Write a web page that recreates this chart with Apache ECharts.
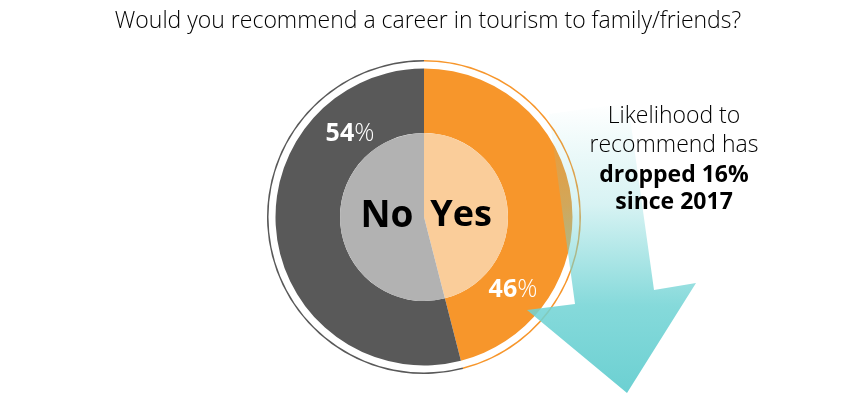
<!DOCTYPE html>
<html>
<head>
<meta charset="utf-8">
<script src="https://cdn.jsdelivr.net/npm/echarts@6/dist/echarts.min.js"></script>
<style>
html,body{margin:0;padding:0;background:#fff;}
#chart{width:856px;height:396px;}
</style>
</head>
<body>
<div id="chart"></div>
<script>
var titleText = 'Would you recommend a career in tourism to family/friends?';
var categories = ['Yes', 'No'];
var values = [46, 54];
var dropPct = 16;
var sinceYear = 2017;
var noteLines = ['Likelihood to', 'recommend has'];

var FONT = '"Open Sans", "Noto Sans", sans-serif';
var mainColors = ['#f7962b', '#595959'];
var innerColors = ['#facd9a', '#b2b2b2'];

var chart = echarts.init(document.getElementById('chart'), null, {renderer: 'canvas'});
var cx = 424, cy = 217;

function dataWith(colors) {
  return categories.map(function (c, i) {
    return {name: c, value: values[i], itemStyle: {color: colors[i]}};
  });
}

var pctRich = {
  b: {fontFamily: FONT, fontSize: 25, fontWeight: 'bold', fill: '#ffffff', color: '#ffffff'},
  l: {fontFamily: FONT, fontSize: 25, fontWeight: 300, fill: '#ffffff', color: '#ffffff'}
};

var option = {
  backgroundColor: '#ffffff',
  animation: false,
  title: {
    text: titleText,
    left: 'center',
    top: 5,
    textStyle: {fontFamily: FONT, fontSize: 23, fontWeight: 300, color: '#000000'}
  },
  series: [
    {
      type: 'pie', center: [cx, cy], radius: [155.5, 157], startAngle: 90, clockwise: true,
      silent: true, label: {show: false}, labelLine: {show: false},
      data: dataWith(mainColors)
    },
    {
      type: 'pie', center: [cx, cy], radius: [84, 148.5], startAngle: 90, clockwise: true,
      silent: true, label: {show: false}, labelLine: {show: false},
      data: dataWith(mainColors)
    },
    {
      type: 'pie', center: [cx, cy], radius: [0, 84], startAngle: 90, clockwise: true,
      silent: true, label: {show: false}, labelLine: {show: false},
      data: dataWith(innerColors)
    }
  ],
  graphic: [
    {
      type: 'polygon', z: 100,
      shape: {points: [[549, 114], [628, 103], [654, 290], [696, 283], [627, 393], [527, 310], [575, 304]]},
      style: {
        fill: new echarts.graphic.LinearGradient(0, 103, 0, 393, [
          {offset: 0, color: 'rgba(112,211,212,0.0)'},
          {offset: 0.35, color: 'rgba(112,211,212,0.28)'},
          {offset: 0.7, color: 'rgba(112,211,212,0.85)'},
          {offset: 1, color: 'rgba(108,208,210,1)'}
        ], true)
      }
    },
    {
      type: 'text', z: 110, x: 350, y: 134,
      style: {text: '{b|' + values[1] + '}{l|%}', align: 'center', verticalAlign: 'middle', rich: pctRich}
    },
    {
      type: 'text', z: 110, x: 513, y: 290,
      style: {text: '{b|' + values[0] + '}{l|%}', align: 'center', verticalAlign: 'middle', rich: pctRich}
    },
    {
      type: 'text', z: 110, x: 387, y: 216,
      style: {text: categories[1], align: 'center', verticalAlign: 'middle',
        font: 'bold 37px ' + FONT, fill: '#000000'}
    },
    {
      type: 'text', z: 110, x: 461, y: 216,
      style: {text: categories[0], align: 'center', verticalAlign: 'middle',
        font: 'bold 36px ' + FONT, fill: '#000000'}
    },
    {
      type: 'text', z: 110, x: 674, y: 116,
      style: {text: noteLines[0], align: 'center', verticalAlign: 'middle',
        font: '300 23px ' + FONT, fill: '#000000'}
    },
    {
      type: 'text', z: 110, x: 674, y: 145,
      style: {text: noteLines[1], align: 'center', verticalAlign: 'middle',
        font: '300 23px ' + FONT, fill: '#000000'}
    },
    {
      type: 'text', z: 110, x: 674, y: 175,
      style: {text: 'dropped ' + dropPct + '%', align: 'center', verticalAlign: 'middle',
        font: 'bold 23px ' + FONT, fill: '#000000'}
    },
    {
      type: 'text', z: 110, x: 674, y: 202,
      style: {text: 'since ' + sinceYear, align: 'center', verticalAlign: 'middle',
        font: 'bold 23px ' + FONT, fill: '#000000'}
    }
  ]
};
chart.setOption(option);
</script>
</body>
</html>
